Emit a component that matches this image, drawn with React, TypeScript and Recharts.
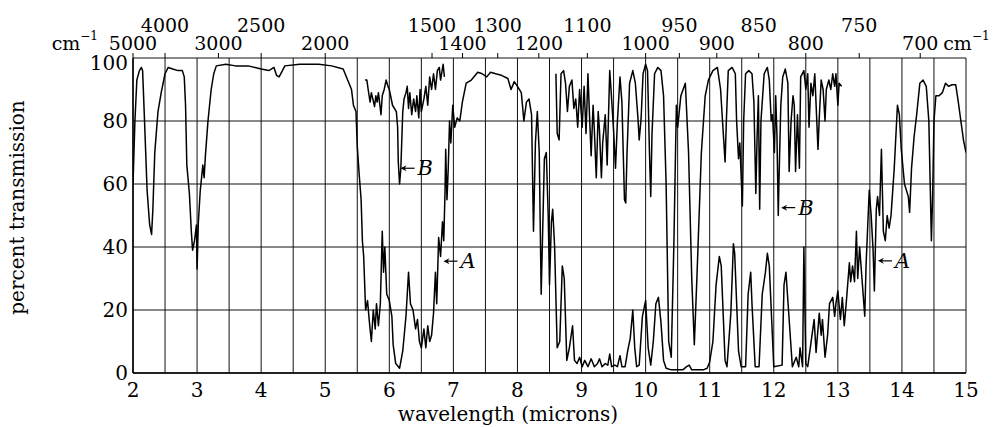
import { LineChart, Line, XAxis, YAxis, CartesianGrid, ReferenceDot } from 'recharts';

const FONT = "'DejaVu Serif', 'Liberation Serif', serif";

// grid every half micron, labels on whole microns
const gridWavelengths = [2, 2.5, 3, 3.5, 4, 4.5, 5, 5.5, 6, 6.5, 7, 7.5, 8, 8.5, 9, 9.5, 10, 10.5, 11, 11.5, 12, 12.5, 13, 13.5, 14, 14.5, 15];
const percentTicks = [0, 20, 40, 60, 80, 100];

// wavenumber scale on top, two staggered rows
const upperWavenumbers = [4000, 2500, 1500, 1300, 1100, 950, 850, 750];
const lowerWavenumbers = [5000, 3000, 2000, 1400, 1200, 1000, 900, 800, 700];

// curve A: thick sample, wavelength (µm) / percent transmission
const traceA: [number, number][] = [
  [2.0, 60], [2.03, 80], [2.06, 93], [2.1, 96], [2.13, 97], [2.15, 96], [2.18, 80], [2.22, 58], [2.26, 47], [2.29, 44],
  [2.31, 52], [2.34, 70], [2.39, 83], [2.44, 89], [2.5, 95], [2.55, 97], [2.62, 96.5], [2.7, 96], [2.77, 96], [2.8, 94],
  [2.82, 85], [2.84, 66], [2.88, 57], [2.91, 45], [2.93, 39], [2.96, 42], [2.99, 47], [3.0, 33], [3.02, 48], [3.05, 58],
  [3.09, 66], [3.11, 62], [3.13, 69], [3.17, 80], [3.22, 90], [3.26, 95], [3.3, 97.5], [3.45, 98], [3.6, 97.5], [3.8, 97.5],
  [4.0, 96.5], [4.12, 96], [4.2, 97], [4.24, 94.5], [4.28, 94], [4.32, 95.5], [4.37, 97.5], [4.6, 98], [4.9, 98], [5.1, 97.5],
  [5.28, 96.5], [5.35, 93], [5.41, 90], [5.44, 85], [5.48, 83], [5.5, 72], [5.53, 63], [5.56, 55], [5.58, 42], [5.6, 37],
  [5.63, 20], [5.66, 23], [5.69, 16], [5.72, 10], [5.75, 20], [5.78, 14], [5.8, 22], [5.83, 15], [5.86, 22], [5.89, 45],
  [5.91, 32], [5.93, 40], [5.96, 25], [6.0, 23], [6.04, 18], [6.06, 9], [6.1, 3], [6.16, 1.5], [6.21, 7], [6.26, 18],
  [6.3, 32], [6.33, 22], [6.37, 20], [6.41, 14], [6.44, 17], [6.47, 10], [6.5, 8], [6.54, 14], [6.57, 8], [6.6, 15],
  [6.63, 10], [6.66, 12], [6.69, 19], [6.72, 32], [6.74, 22], [6.77, 43], [6.8, 37], [6.83, 48], [6.85, 42], [6.87, 58],
  [6.88, 71], [6.9, 55], [6.92, 65], [6.94, 80], [6.96, 73], [6.99, 85], [7.02, 78], [7.06, 81], [7.1, 80], [7.14, 86],
  [7.2, 92], [7.28, 93], [7.38, 95.5], [7.45, 95], [7.52, 94], [7.58, 95.5], [7.66, 95], [7.75, 94.5], [7.85, 93.5], [7.9, 90],
  [7.95, 92.5], [8.0, 91], [8.06, 89], [8.1, 80], [8.14, 86], [8.18, 87], [8.22, 82], [8.25, 45], [8.28, 73], [8.31, 83],
  [8.34, 70], [8.37, 25], [8.42, 68], [8.45, 70], [8.48, 50], [8.5, 28], [8.53, 48], [8.55, 52], [8.58, 40], [8.62, 8],
  [8.66, 10], [8.7, 34], [8.73, 30], [8.77, 4], [8.81, 8], [8.86, 15], [8.89, 4], [8.93, 3], [8.97, 5], [9.01, 2],
  [9.05, 4], [9.1, 2], [9.15, 4.5], [9.2, 2], [9.25, 3], [9.28, 4.5], [9.32, 2], [9.37, 3], [9.41, 2.5], [9.44, 6],
  [9.47, 2], [9.52, 2.5], [9.56, 2], [9.6, 5.5], [9.63, 2], [9.68, 2], [9.72, 7], [9.76, 11], [9.8, 20], [9.83, 8],
  [9.86, 2], [9.9, 2.5], [9.95, 18], [10.0, 23], [10.04, 8], [10.08, 2.5], [10.12, 10], [10.16, 22], [10.2, 24], [10.24, 16],
  [10.28, 4], [10.32, 1.5], [10.4, 1], [10.5, 1], [10.58, 1], [10.64, 2], [10.68, 2.5], [10.72, 1], [10.8, 1], [10.9, 1],
  [10.96, 1.5], [11.0, 3.5], [11.05, 10], [11.1, 28], [11.15, 37], [11.18, 34], [11.24, 4], [11.27, 2], [11.33, 19], [11.37, 41],
  [11.39, 38], [11.45, 7], [11.49, 2], [11.56, 2], [11.6, 25], [11.64, 32], [11.66, 22], [11.71, 2], [11.77, 2], [11.82, 25],
  [11.87, 32], [11.9, 38], [11.93, 34], [12.0, 2], [12.13, 2.5], [12.16, 28], [12.19, 32], [12.24, 17], [12.29, 2], [12.35, 5],
  [12.39, 2], [12.41, 8], [12.45, 2], [12.47, 40], [12.5, 3], [12.53, 2], [12.58, 9.5], [12.63, 17], [12.66, 6.5], [12.71, 19],
  [12.74, 12], [12.76, 17], [12.8, 5], [12.84, 12], [12.87, 22], [12.92, 24], [12.95, 18], [12.97, 22], [13.0, 26], [13.04, 17],
  [13.07, 24], [13.1, 15], [13.13, 22], [13.18, 35], [13.2, 29], [13.23, 34], [13.26, 29], [13.29, 45], [13.31, 30], [13.34, 40],
  [13.38, 29], [13.42, 18], [13.44, 34], [13.49, 58], [13.52, 50], [13.55, 39], [13.57, 26], [13.6, 52], [13.62, 56], [13.65, 50],
  [13.68, 71], [13.71, 45], [13.74, 42], [13.77, 50], [13.8, 46], [13.83, 50], [13.85, 56], [13.88, 65], [13.91, 77], [13.93, 85],
  [13.96, 82], [13.99, 71], [14.04, 60], [14.1, 56], [14.12, 51], [14.15, 65], [14.19, 75], [14.23, 82], [14.28, 92], [14.33, 93],
  [14.38, 91], [14.42, 80], [14.44, 61], [14.46, 42], [14.48, 57], [14.5, 80], [14.53, 88], [14.58, 88], [14.63, 89], [14.68, 92],
  [14.73, 91], [14.78, 91.5], [14.84, 91.5], [14.88, 86], [14.92, 80], [14.96, 74], [15.0, 70],
];

// curve B: thin sample, only where A is saturated
const traceB1: [number, number][] = [
  [5.62, 93], [5.65, 93], [5.67, 90], [5.7, 86], [5.72, 89], [5.77, 84.6], [5.79, 88], [5.81, 86], [5.83, 89], [5.87, 82],
  [5.89, 88], [5.92, 90], [5.95, 93], [5.98, 91], [6.0, 90], [6.05, 85], [6.11, 83], [6.13, 78], [6.14, 67], [6.16, 60],
  [6.18, 65], [6.21, 83], [6.23, 87], [6.26, 89], [6.28, 91], [6.3, 84], [6.32, 89], [6.35, 82], [6.38, 87], [6.41, 83],
  [6.43, 88], [6.46, 81], [6.48, 90], [6.5, 83], [6.54, 87], [6.57, 91], [6.6, 85], [6.63, 94], [6.66, 90], [6.69, 95],
  [6.72, 90], [6.75, 96], [6.78, 97], [6.8, 93], [6.84, 98], [6.86, 94],
];

const traceB2: [number, number][] = [
  [8.6, 95], [8.62, 76], [8.65, 74], [8.68, 95], [8.72, 96], [8.75, 92], [8.78, 83], [8.81, 91], [8.85, 93], [8.88, 84],
  [8.91, 87], [8.94, 78], [8.97, 90], [8.99, 84], [9.01, 78], [9.04, 91], [9.07, 76], [9.1, 95], [9.12, 84], [9.15, 69],
  [9.18, 85], [9.2, 77], [9.23, 62], [9.26, 83], [9.28, 77], [9.31, 62], [9.33, 73], [9.37, 82], [9.4, 66], [9.44, 96],
  [9.46, 90], [9.5, 77], [9.53, 65], [9.56, 80], [9.6, 94], [9.63, 86], [9.67, 55], [9.69, 54], [9.71, 70], [9.75, 92],
  [9.8, 96], [9.84, 92], [9.88, 81], [9.9, 74], [9.93, 81], [9.96, 95], [10.0, 98], [10.03, 96], [10.06, 70], [10.08, 56],
  [10.1, 76], [10.14, 95], [10.19, 97], [10.24, 96], [10.28, 88], [10.32, 60], [10.36, 10], [10.4, 5], [10.44, 40], [10.48, 85],
  [10.5, 78], [10.55, 88], [10.62, 92], [10.67, 70], [10.72, 30], [10.76, 9], [10.8, 30], [10.87, 70], [10.93, 88], [10.98, 93],
  [11.05, 96], [11.12, 97], [11.17, 90], [11.2, 80], [11.24, 67], [11.26, 80], [11.29, 96], [11.35, 97], [11.4, 95], [11.42, 80],
  [11.45, 68], [11.47, 73], [11.51, 53], [11.53, 80], [11.56, 95], [11.61, 96], [11.66, 95], [11.69, 86], [11.72, 57], [11.74, 75],
  [11.76, 88], [11.78, 52], [11.8, 80], [11.85, 95], [11.9, 97], [11.93, 93], [11.96, 80], [11.98, 82], [12.01, 70], [12.03, 88],
  [12.05, 75], [12.07, 50], [12.08, 60], [12.11, 85], [12.14, 94], [12.18, 96.5], [12.22, 92], [12.24, 64], [12.27, 80], [12.3, 88],
  [12.32, 85], [12.34, 64], [12.37, 82], [12.4, 65], [12.42, 94], [12.47, 96], [12.5, 90], [12.53, 95], [12.55, 78], [12.58, 92],
  [12.61, 88], [12.64, 95], [12.69, 71], [12.71, 81], [12.74, 93], [12.77, 90], [12.8, 80], [12.82, 90], [12.86, 93], [12.89, 90],
  [12.92, 95], [12.95, 91], [12.97, 95], [13.0, 85], [13.02, 92], [13.06, 91],
];

// arrows marking curves A and B
const markerLetters = ['B', 'A', 'B', 'A'];
const markerWavelengths = [6.16, 6.83, 12.1, 13.61];
const markerPercents = [65, 35.5, 52.5, 35.6];

const toRows = (pts: [number, number][]) => pts.map(([wl, pct]) => ({ wl, pct }));

const BottomTick = ({ x, payload }: any) => {
  if (!Number.isInteger(payload.value)) return <g />;
  return (
    <text x={x} y={397} textAnchor="middle" fontSize={20} fontFamily={FONT} fill="#000">
      {payload.value}
    </text>
  );
};

const LeftTick = ({ y, payload }: any) => (
  <text x={128} y={y + (payload.value === 100 ? 12 : 7)} textAnchor="end" fontSize={20} fontFamily={FONT} fill="#000">
    {payload.value}
  </text>
);

const CmInv = ({ x, y, anchor }: { x: number; y: number; anchor: 'start' | 'end' }) => (
  <text x={x} y={y} textAnchor={anchor} fontSize={19} fontFamily={FONT} fill="#000">
    cm<tspan dy={-10} fontSize={12}>−1</tspan>
  </text>
);

// wavenumber tick on the top border, label above it
const WavenumberTick = (wn: number, upper: boolean) => (props: any) => {
  const { cx, cy } = props;
  const base = upper ? cy - 26 : cy - 8;
  return (
    <g>
      <line x1={cx} y1={cy} x2={cx} y2={cy - 5} stroke="#000" strokeWidth={1} />
      <text x={cx} y={base} textAnchor="middle" fontSize={19} fontFamily={FONT} fill="#000">{wn}</text>
      {wn === 5000 && <CmInv x={cx - 35} y={base} anchor="end" />}
      {wn === 700 && <CmInv x={cx + 23} y={base} anchor="start" />}
    </g>
  );
};

const Marker = (letter: string) => (props: any) => {
  const { cx, cy } = props;
  return (
    <g>
      <line x1={cx + 3} y1={cy} x2={cx + 15} y2={cy} stroke="#000" strokeWidth={1.2} />
      <polygon points={`${cx + 1},${cy} ${cx + 7},${cy - 3} ${cx + 5},${cy} ${cx + 7},${cy + 3}`} fill="#000" />
      <text x={cx + 18} y={cy + 7} fontSize={21} fontStyle="italic" fontFamily={FONT} fill="#000">{letter}</text>
    </g>
  );
};

export default function App() {
  return (
    <div style={{ position: 'absolute', left: 0, top: 0, background: '#fff' }}>
      <LineChart width={1000} height={427} margin={{ top: 58, right: 34, bottom: 8, left: 33 }}>
        <CartesianGrid stroke="#111" strokeWidth={1} />
        <XAxis
          dataKey="wl"
          type="number"
          domain={[2, 15]}
          allowDataOverflow
          ticks={gridWavelengths}
          interval={0}
          height={46}
          tickLine={false}
          axisLine={{ stroke: '#000', strokeWidth: 1.5 }}
          tick={<BottomTick />}
          label={{
            content: () => (
              <text x={508} y={421} textAnchor="middle" fontSize={20} fontFamily={FONT} fill="#000">
                wavelength (microns)
              </text>
            ),
          }}
        />
        <YAxis
          type="number"
          domain={[0, 100]}
          ticks={percentTicks}
          interval={0}
          width={100}
          tickSize={4}
          tickMargin={2}
          tickLine={{ stroke: 'none' }}
          axisLine={{ stroke: '#000', strokeWidth: 1.5 }}
          tick={<LeftTick />}
          label={{
            content: ({ viewBox }: any) => {
              const cy = viewBox.y + viewBox.height / 2 - 8;
              return (
                <text x={24} y={cy} transform={`rotate(-90, 24, ${cy})`} textAnchor="middle" fontSize={20} fontFamily={FONT} fill="#000">
                  percent transmission
                </text>
              );
            },
          }}
        />
        <Line data={toRows(traceA)} dataKey="pct" type="linear" stroke="#000" strokeWidth={1.5} strokeLinejoin="round" dot={false} isAnimationActive={false} />
        <Line data={toRows(traceB1)} dataKey="pct" type="linear" stroke="#000" strokeWidth={1.5} strokeLinejoin="round" dot={false} isAnimationActive={false} />
        <Line data={toRows(traceB2)} dataKey="pct" type="linear" stroke="#000" strokeWidth={1.5} strokeLinejoin="round" dot={false} isAnimationActive={false} />
        {upperWavenumbers.map((wn) => (
          <ReferenceDot key={`u${wn}`} x={10000 / wn} y={100} r={0} shape={WavenumberTick(wn, true)} />
        ))}
        {lowerWavenumbers.map((wn) => (
          <ReferenceDot key={`l${wn}`} x={10000 / wn} y={100} r={0} shape={WavenumberTick(wn, false)} />
        ))}
        {markerLetters.map((letter, i) => (
          <ReferenceDot key={i} x={markerWavelengths[i]} y={markerPercents[i]} r={0} shape={Marker(letter)} />
        ))}
      </LineChart>
    </div>
  );
}
